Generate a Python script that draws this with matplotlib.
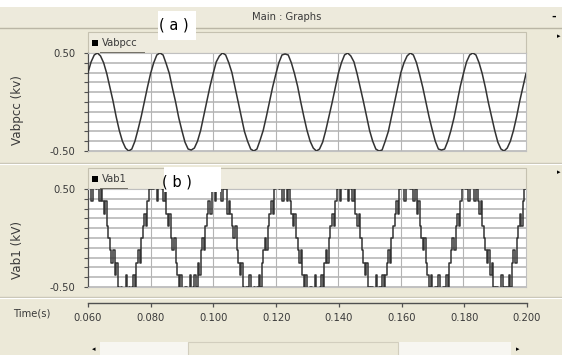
import numpy as np
import matplotlib
matplotlib.use('Agg')
import matplotlib.pyplot as plt
from matplotlib.patches import Rectangle

# ---------------- data ----------------
t_start = 0.060
t_end = 0.200
dt_vabpcc = 0.001     # sample step of Vabpcc (s)
dt_vab1 = 0.0005      # sample step of Vab1 (s)

vabpcc = [
    0.30, 0.41, 0.48, 0.50, 0.47, 0.40, 0.29, 0.15, 0.01, -0.15, -0.29, -0.40, -0.47, -0.50, -0.48, -0.40, -0.28, -0.15, 0.00, 0.15,
    0.29, 0.40, 0.48, 0.50, 0.48, 0.39, 0.29, 0.14, 0.00, -0.16, -0.29, -0.41, -0.48, -0.49, -0.47, -0.40, -0.29, -0.14, 0.01, 0.16,
    0.29, 0.41, 0.47, 0.50, 0.48, 0.40, 0.30, 0.15, 0.00, -0.15, -0.30, -0.40, -0.48, -0.50, -0.48, -0.39, -0.29, -0.15, 0.00, 0.15,
    0.28, 0.40, 0.48, 0.49, 0.48, 0.40, 0.29, 0.16, 0.00, -0.15, -0.29, -0.40, -0.47, -0.50, -0.48, -0.41, -0.29, -0.15, -0.01, 0.14,
    0.29, 0.40, 0.48, 0.50, 0.47, 0.41, 0.29, 0.15, 0.01, -0.14, -0.29, -0.40, -0.48, -0.50, -0.49, -0.40, -0.30, -0.15, 0.00, 0.15,
    0.30, 0.40, 0.47, 0.50, 0.48, 0.40, 0.28, 0.15, 0.00, -0.15, -0.28, -0.40, -0.48, -0.49, -0.48, -0.40, -0.29, -0.16, 0.00, 0.16,
    0.29, 0.41, 0.48, 0.50, 0.48, 0.40, 0.29, 0.15, -0.01, -0.15, -0.29, -0.41, -0.48, -0.50, -0.47, -0.40, -0.29, -0.15, 0.01, 0.15,
    0.29,
]

vab1 = [
    0.625, 0.625, 0.375, 0.625, 0.625, 0.5, 0.625, 0.375, 0.5, 0.375,
    0.25, 0.375, 0.125, 0.0, -0.125, -0.25, -0.125, -0.375, -0.25, -0.5,
    -0.625, -0.5, -0.625, -0.625, -0.375, -0.625, -0.5, -0.625, -0.5, -0.375,
    -0.5, -0.25, -0.125, -0.25, 0.0, 0.125, 0.25, 0.125, 0.375, 0.5,

    0.625, 0.5, 0.625, 0.625, 0.375, 0.625, 0.625, 0.5, 0.375, 0.5,
    0.25, 0.125, 0.25, 0.0, -0.125, 0.0, -0.25, -0.375, -0.5, -0.375,
    -0.625, -0.625, -0.5, -0.625, -0.625, -0.375, -0.625, -0.5, -0.375, -0.5,
    -0.25, -0.375, -0.125, 0.0, -0.125, 0.125, 0.25, 0.375, 0.25, 0.5,

    0.625, 0.375, 0.625, 0.625, 0.625, 0.375, 0.625, 0.5, 0.5, 0.25,
    0.375, 0.25, 0.125, 0.0, 0.125, -0.125, -0.25, -0.375, -0.25, -0.5,
    -0.625, -0.5, -0.625, -0.375, -0.625, -0.625, -0.5, -0.625, -0.5, -0.375,
    -0.5, -0.25, -0.125, 0.0, -0.125, 0.125, 0.25, 0.375, 0.25, 0.5,

    0.625, 0.625, 0.5, 0.625, 0.375, 0.625, 0.625, 0.375, 0.5, 0.375,
    0.25, 0.125, 0.25, 0.0, -0.125, -0.25, -0.125, -0.375, -0.5, -0.375,
    -0.625, -0.625, -0.5, -0.625, -0.625, -0.375, -0.625, -0.625, -0.5, -0.375,
    -0.5, -0.25, -0.125, -0.25, 0.0, 0.125, 0.25, 0.125, 0.375, 0.5,

    0.625, 0.375, 0.625, 0.625, 0.5, 0.625, 0.375, 0.625, 0.5, 0.375,
    0.5, 0.25, 0.125, 0.25, 0.0, -0.125, -0.25, -0.375, -0.25, -0.5,
    -0.625, -0.5, -0.625, -0.625, -0.375, -0.625, -0.5, -0.625, -0.375, -0.5,
    -0.375, -0.25, -0.125, -0.25, 0.0, 0.125, 0.25, 0.375, 0.25, 0.5,

    0.625, 0.625, 0.375, 0.625, 0.625, 0.625, 0.5, 0.625, 0.375, 0.5,
    0.25, 0.375, 0.125, 0.0, -0.125, 0.0, -0.25, -0.375, -0.5, -0.375,
    -0.625, -0.625, -0.5, -0.625, -0.375, -0.625, -0.625, -0.5, -0.5, -0.375,
    -0.5, -0.25, -0.125, 0.0, -0.125, 0.125, 0.25, 0.125, 0.375, 0.5,

    0.625, 0.5, 0.625, 0.375, 0.625, 0.625, 0.625, 0.375, 0.5, 0.375,
    0.25, 0.375, 0.125, 0.0, -0.125, -0.25, -0.125, -0.375, -0.25, -0.5,
    -0.625, -0.5, -0.625, -0.625, -0.375, -0.625, -0.5, -0.625, -0.5, -0.375,
    -0.5, -0.25, -0.125, -0.25, 0.0, 0.125, 0.25, 0.125, 0.375, 0.5,

    0.625,
]

time_ticks = [0.060, 0.080, 0.100, 0.120, 0.140, 0.160, 0.180, 0.200]
time_labels = ['0.060', '0.080', '0.100', '0.120', '0.140', '0.160', '0.180', '0.200']
y_ticks = [-0.5, -0.4, -0.3, -0.2, -0.1, 0.0, 0.1, 0.2, 0.3, 0.4, 0.5]
y_labels = ['-0.50', '', '', '', '', '', '', '', '', '', '0.50']
v_grid = [0.080, 0.100, 0.120, 0.140, 0.160, 0.180]

# ---------------- layout helpers ----------------
W, H = 562, 355
BG = '#ECE9D8'
STRIP = '#EEEBDE'
EDGE = '#C5C1B0'
TXT = '#3A3A3A'
LINE = '#333333'
FONT = 'DejaVu Sans'


def px_rect(x0, y0, x1, y1):
    return [x0 / W, 1 - y1 / H, (x1 - x0) / W, (y1 - y0) / H]


fig = plt.figure(figsize=(W / 100, H / 100), dpi=100, facecolor=BG)

# background decoration axes (pixel coordinates, y downward)
bg = fig.add_axes([0, 0, 1, 1], zorder=0)
bg.set_xlim(0, W)
bg.set_ylim(H, 0)
bg.axis('off')

bg.add_patch(Rectangle((0, 0), W, 7, facecolor='white', edgecolor='none'))
bg.add_patch(Rectangle((0, 7), W, 20, facecolor='#EDEADC', edgecolor='none'))
bg.plot([0, W], [27.5, 27.5], color='#BAB6A6', lw=1.0)
bg.text(287, 17.5, 'Main : Graphs', ha='center', va='center', fontsize=7.2,
        color=TXT, family=FONT)
bg.text(554, 17, '-', ha='center', va='center', fontsize=8, color='black',
        family=FONT, fontweight='bold')

# legend strips
for (y0, y1, name, ul_end) in [(32, 53, 'Vabpcc', 144), (168, 189, 'Vab1', 127)]:
    bg.add_patch(Rectangle((88, y0), 438, y1 - y0, facecolor=STRIP, edgecolor=EDGE, lw=0.8))
    bg.add_patch(Rectangle((91.5, y0 + 8), 6, 5.5, facecolor='black', edgecolor='none'))
    bg.text(102, y0 + 11, name, ha='left', va='center', fontsize=7.2, color=TXT, family=FONT)
    bg.plot([101, ul_end], [y1 - 0.5, y1 - 0.5], color='#6E6B60', lw=1.4)

# separators
bg.plot([0, W], [162.5, 162.5], color='#C9C5B5', lw=1.0)
bg.plot([0, W], [163.5, 163.5], color='white', lw=0.8)
bg.plot([0, W], [296.5, 296.5], color='#C9C5B5', lw=1.0)
bg.plot([0, W], [297.5, 297.5], color='white', lw=0.8)

# right-hand markers
bg.text(559, 36, '\u25B8', ha='center', va='center', fontsize=5, color='black', family=FONT)
bg.text(559, 172, '\u25B8', ha='center', va='center', fontsize=5, color='black', family=FONT)

# axis titles
bg.text(17, 110, 'Vabpcc (kv)', rotation=90, ha='center', va='center', fontsize=8.6,
        color=TXT, family=FONT)
bg.text(17, 250, 'Vab1 (kV)', rotation=90, ha='center', va='center', fontsize=8.6,
        color=TXT, family=FONT)
bg.text(32, 314, 'Time(s)', ha='center', va='center', fontsize=7.2, color=TXT, family=FONT)

# scrollbar
bg.add_patch(Rectangle((88, 342), 438, 14, facecolor='#F7F6F1', edgecolor='none'))
bg.add_patch(Rectangle((188, 342), 210, 14, facecolor=BG, edgecolor='#D2CEBE', lw=0.8))
bg.add_patch(Rectangle((88, 342), 12, 14, facecolor=BG, edgecolor='none'))
bg.add_patch(Rectangle((511, 342), 15, 14, facecolor=BG, edgecolor='none'))
bg.text(94, 349, '\u25C2', ha='center', va='center', fontsize=5, color='black', family=FONT)
bg.text(518, 349, '\u25B8', ha='center', va='center', fontsize=5, color='black', family=FONT)


def style_plot(ax):
    ax.set_facecolor('white')
    ax.set_xlim(t_start, t_end)
    ax.set_ylim(-0.5, 0.5)
    for y in y_ticks:
        ax.axhline(y, color='#C2C2C2', lw=1.4, zorder=1)
    for x in v_grid:
        ax.axvline(x, color='#B4B4B4', lw=0.8, zorder=1)
    ax.set_yticks(y_ticks)
    ax.set_yticklabels(y_labels)
    ax.set_xticks([])
    ax.tick_params(axis='y', direction='out', length=3, width=0.8, color='#505050',
                   pad=6, labelsize=7.2, labelcolor=TXT)
    for lab in ax.get_yticklabels():
        lab.set_family(FONT)
    for s in ['top', 'right', 'bottom']:
        ax.spines[s].set_color('#C0C0C0')
        ax.spines[s].set_linewidth(0.8)
    ax.spines['left'].set_color('#505050')
    ax.spines['left'].set_linewidth(0.9)


t_pcc = t_start + dt_vabpcc * np.arange(len(vabpcc))
t_vab1 = t_start + dt_vab1 * np.arange(len(vab1))

ax1 = fig.add_axes(px_rect(88, 53, 526, 151), zorder=2)
style_plot(ax1)
ax1.plot(t_pcc, vabpcc, color=LINE, lw=1.1, zorder=3)

ax2 = fig.add_axes(px_rect(88, 189, 526, 287), zorder=2)
style_plot(ax2)
ax2.plot(t_vab1, vab1, color=LINE, lw=1.1, drawstyle='steps-post', zorder=3)

# time axis
ax3 = fig.add_axes(px_rect(88, 302, 527, 303), zorder=2)
ax3.set_xlim(t_start, t_end)
ax3.patch.set_alpha(0)
ax3.set_yticks([])
ax3.set_xticks(time_ticks)
ax3.set_xticklabels(time_labels)
for s in ['top', 'right', 'left']:
    ax3.spines[s].set_visible(False)
ax3.spines['bottom'].set_color('#505050')
ax3.spines['bottom'].set_linewidth(1.0)
ax3.tick_params(axis='x', direction='out', length=3, width=0.9, color='#505050',
                pad=4, labelsize=7.2, labelcolor=TXT)
for lab in ax3.get_xticklabels():
    lab.set_family(FONT)

# overlay boxes "(a)" and "(b)"
ov = fig.add_axes([0, 0, 1, 1], zorder=5)
ov.set_xlim(0, W)
ov.set_ylim(H, 0)
ov.axis('off')
ov.patch.set_alpha(0)
ov.add_patch(Rectangle((158, 11), 38, 29, facecolor='white', edgecolor='none'))
ov.text(174, 25, '( a )', ha='center', va='center', fontsize=10.5,
        family=['Liberation Sans Narrow', 'DejaVu Sans'], color='black')
ov.add_patch(Rectangle((164, 167), 57, 25, facecolor='white', edgecolor='none'))
ov.text(177, 182, '( b )', ha='center', va='center', fontsize=10.5,
        family=['Liberation Sans Narrow', 'DejaVu Sans'], color='black')

fig.savefig('out.png', dpi=100, facecolor=BG)
